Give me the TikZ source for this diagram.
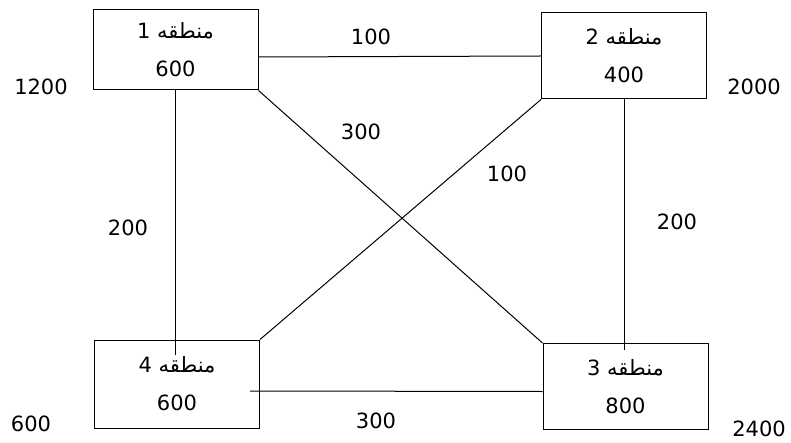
\documentclass[tikz,border=0pt]{standalone}
\usepackage{fontspec}
\setmainfont{DejaVu Sans}
\newfontfamily\arabicfont[Script=Arabic]{DejaVu Sans}
\TeXXeTstate=1
\usepackage{tikz}

\begin{document}
\begin{tikzpicture}[x=1pt, y=-1pt,
every node/.style={font=\fontsize{21}{25}\selectfont},
region/.style={draw, line width=1pt, minimum width=165pt, minimum height=86pt, align=center, inner sep=0pt},
link/.style={line width=1pt},
cost/.style={inner sep=0pt}]
\useasboundingbox (0,0) rectangle (791,443);
% regions
\node[region, minimum height=80pt] (r1) at (175.5,50) {{\arabicfont\beginR منطقه 1\endR}\\[13pt]600};
\node[region] (r2) at (624,56) {{\arabicfont\beginR منطقه 2\endR}\\[13pt]400};
\node[region] (r3) at (625.5,386.5) {{\arabicfont\beginR منطقه 3\endR}\\[13pt]800};
\node[region, minimum height=88pt] (r4) at (177,384) {{\arabicfont\beginR منطقه 4\endR}\\[13pt]600};
% links
\draw[link] ([yshift=-7pt]r1.east) -- (r2.west);
\draw[link] (r1.south) -- ([yshift=-15pt]r1.south |- r4.north);
\draw[link] (r2.south) -- ([yshift=-7pt]r2.south |- r3.north);
\draw[link] ([xshift=-10pt,yshift=-7pt]r4.east) -- ([yshift=-5pt]r3.west);
\draw[link] (r1.south east) -- (r3.north west);
\draw[link] (r4.north east) -- (r2.south west);
% costs
\node[cost] (c12) at (371,37) {100};
\node[cost] (c13) at (361,132) {300};
\node[cost] (c42) at (507,174) {100};
\node[cost] (c14) at (128,228) {200};
\node[cost] (c23) at (677,222) {200};
\node[cost] (c43) at (376,421) {300};
% supplies
\node[cost] (s1) at (41,87) {1200};
\node[cost] (s2) at (754,87) {2000};
\node[cost] (s4) at (31,424) {600};
\node[cost] (s3) at (759,429) {2400};
\end{tikzpicture}
\end{document}
